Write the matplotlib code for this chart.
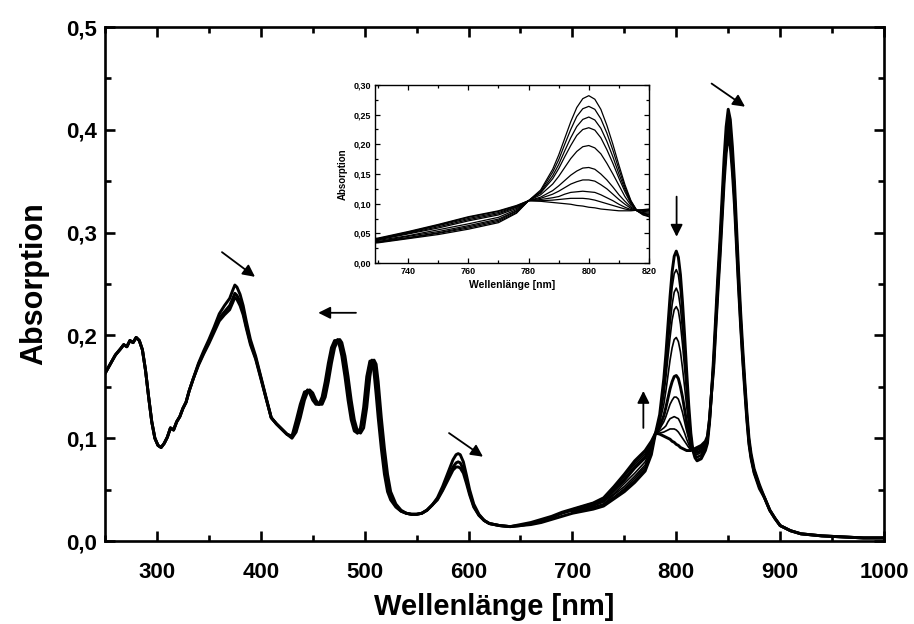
import matplotlib
matplotlib.use("Agg")
import matplotlib.pyplot as plt
from matplotlib.ticker import MultipleLocator, FuncFormatter

plt.rcParams['font.family'] = ['Liberation Sans', 'DejaVu Sans']
plt.rcParams['font.weight'] = 'bold'

# ---------------------------------------------------------------------------
# UV/VIS part (250-690 nm): first, middle and last spectrum of the series
# ---------------------------------------------------------------------------
wl_uv = [250, 255, 260, 265, 268, 271, 274, 277, 280, 283,
         286, 289, 292, 295, 298, 301, 304, 307, 310, 313,
         316, 319, 322, 325, 328, 331, 335, 340, 345, 350,
         355, 360, 365, 370, 373, 375, 377, 380, 383, 386,
         390, 395, 400, 405, 410, 415, 420, 425, 430, 434,
         438, 442, 445, 447, 450, 453, 456, 459, 462, 465,
         468, 471, 474, 476, 478, 481, 484, 487, 490, 493,
         496, 499, 502, 505, 507, 509, 511, 513, 516, 519,
         522, 525, 530, 535, 540, 545, 550, 555, 560, 565,
         570, 575, 580, 585, 588, 590, 592, 595, 598, 601,
         605, 610, 615, 620, 630, 640, 650, 660, 670, 680,
         690]

uv_first = [.163, .172, .181, .187, .191, .189, .195, .193, .198, .195,
            .186, .166, .140, .116, .100, .093, .091, .095, .101, .110,
            .108, .116, .121, .129, .135, .146, .158, .173, .185, .196,
            .208, .221, .229, .236, .244, .249, .247, .240, .229, .214,
            .196, .180, .160, .140, .120, .114, .109, .104, .100, .106,
            .120, .137, .145, .147, .144, .137, .133, .133, .140, .155,
            .173, .188, .195, .196, .193, .180, .160, .137, .118, .107,
            .105, .110, .130, .160, .173, .176, .172, .155, .120, .090,
            .065, .048, .036, .030, .027, .026, .026, .027, .030, .035,
            .042, .053, .066, .079, .084, .085, .084, .077, .064, .050,
            .036, .026, .020, .017, .015, .014, .015, .016, .018, .021,
            .024]

uv_mid = [.163, .172, .181, .187, .191, .189, .195, .193, .198, .195,
          .186, .166, .140, .116, .100, .093, .091, .095, .101, .110,
          .108, .116, .121, .129, .135, .146, .158, .172, .183, .194,
          .205, .217, .223, .229, .236, .241, .239, .233, .223, .209,
          .193, .178, .159, .139, .120, .114, .109, .104, .101, .113,
          .129, .142, .147, .145, .139, .134, .133, .137, .150, .167,
          .183, .193, .196, .193, .185, .167, .145, .124, .110, .105,
          .108, .123, .150, .173, .176, .172, .155, .132, .100, .073,
          .053, .043, .034, .029, .027, .026, .026, .027, .030, .035,
          .041, .050, .061, .072, .076, .077, .076, .070, .059, .047,
          .034, .025, .020, .017, .015, .014, .015, .017, .020, .023,
          .027]

uv_last = [.163, .172, .181, .187, .191, .189, .195, .193, .198, .195,
           .186, .166, .140, .116, .100, .093, .091, .095, .101, .110,
           .108, .116, .121, .129, .135, .146, .158, .171, .182, .192,
           .203, .214, .220, .225, .232, .237, .235, .229, .220, .207,
           .191, .177, .158, .139, .120, .114, .109, .104, .102, .117,
           .133, .145, .146, .144, .137, .133, .133, .140, .155, .173,
           .188, .195, .195, .189, .180, .160, .137, .118, .107, .105,
           .110, .130, .160, .175, .175, .164, .143, .120, .090, .065,
           .048, .040, .033, .029, .027, .026, .026, .027, .030, .035,
           .040, .049, .059, .069, .072, .072, .071, .066, .056, .045,
           .033, .025, .020, .017, .015, .014, .016, .018, .021, .024,
           .028]

# ---------------------------------------------------------------------------
# NIR part (700-880 nm): all ten spectra of the series (B800 / B850 bands)
# ---------------------------------------------------------------------------
wl_nir = [700, 720, 730, 740, 750, 760, 770, 776,
          780, 784, 788, 790, 792, 794, 796, 798,
          800, 802, 804, 806, 808, 810, 812, 814, 816, 818, 820,
          824, 828, 830, 832, 834,
          836, 838, 840, 842, 844, 846, 848, 850,
          852, 854, 856, 858, 860, 862, 864, 866, 868, 870,
          872, 875, 880]

nir_t0 = [.027, .031, .034, .041, .048, .057, .068, .084,
          .105, .123, .158, .182, .210, .238, .262, .277,
          .282, .276, .259, .232, .200, .165, .132, .105, .088, .081, .078,
          .080, .088, .095, .115, .145,
          .180, .220, .258, .293, .332, .372, .403, .420,
          .410, .384, .350, .305, .262, .222, .187, .155, .125, .100,
          .085, .070, .055]

nir_t1 = [.027, .032, .035, .042, .050, .059, .070, .085,
          .105, .121, .153, .174, .200, .225, .247, .260,
          .264, .259, .243, .219, .190, .158, .128, .104, .088, .082, .079,
          .081, .089, .096, .115, .145,
          .179, .218, .256, .291, .330, .369, .400, .417,
          .407, .381, .348, .303, .260, .220, .186, .154, .124, .099,
          .084, .070, .055]

nir_t2 = [.028, .032, .036, .043, .051, .061, .072, .087,
          .105, .119, .147, .166, .189, .211, .230, .242,
          .246, .241, .227, .205, .179, .150, .124, .102, .088, .083, .081,
          .083, .090, .096, .116, .145,
          .177, .217, .254, .289, .327, .367, .397, .414,
          .404, .379, .345, .301, .258, .219, .184, .153, .123, .099,
          .084, .069, .054]

nir_t3 = [.028, .033, .036, .045, .053, .063, .074, .088,
          .105, .118, .142, .159, .179, .198, .215, .225,
          .228, .224, .211, .191, .168, .143, .120, .100, .088, .084, .082,
          .084, .091, .097, .116, .145,
          .176, .215, .252, .287, .325, .364, .394, .411,
          .401, .376, .343, .298, .256, .217, .183, .152, .122, .098,
          .083, .069, .054]

nir_t4 = [.029, .034, .038, .046, .056, .066, .077, .090,
          .105, .115, .133, .146, .161, .176, .188, .196,
          .198, .194, .184, .168, .150, .131, .112, .097, .088, .085, .084,
          .086, .092, .098, .117, .145,
          .174, .213, .250, .284, .322, .360, .391, .407,
          .397, .372, .339, .296, .254, .215, .181, .150, .121, .097,
          .082, .068, .053]

nir_t5 = [.030, .035, .039, .049, .059, .071, .081, .092,
          .105, .111, .122, .130, .139, .148, .155, .160,
          .161, .158, .150, .140, .128, .115, .104, .094, .089, .087, .086,
          .088, .094, .100, .118, .145,
          .173, .211, .248, .281, .319, .357, .387, .403,
          .393, .368, .336, .293, .251, .213, .179, .149, .120, .096,
          .082, .067, .053]

nir_t6 = [.030, .036, .040, .050, .061, .073, .083, .094,
          .105, .109, .116, .121, .127, .133, .137, .140,
          .140, .138, .132, .125, .116, .107, .099, .092, .089, .088, .088,
          .090, .095, .100, .118, .145,
          .171, .210, .246, .279, .316, .354, .384, .400,
          .390, .366, .333, .290, .250, .211, .178, .148, .119, .095,
          .081, .067, .052]

nir_t7 = [.030, .036, .041, .051, .063, .075, .085, .095,
          .105, .107, .110, .112, .116, .119, .120, .121,
          .120, .119, .115, .110, .105, .099, .094, .090, .089, .089, .089,
          .091, .096, .101, .118, .145,
          .170, .208, .244, .277, .314, .352, .381, .397,
          .388, .363, .331, .288, .248, .210, .177, .147, .118, .095,
          .080, .066, .052]

nir_t8 = [.031, .037, .041, .052, .064, .077, .087, .096,
          .105, .105, .106, .107, .108, .109, .109, .109,
          .108, .106, .103, .100, .097, .094, .091, .089, .089, .089, .090,
          .092, .096, .102, .119, .145,
          .169, .207, .243, .276, .312, .350, .379, .395,
          .386, .361, .329, .287, .246, .209, .176, .146, .118, .094,
          .080, .066, .052]

nir_t9 = [.031, .037, .042, .053, .065, .078, .088, .097,
          .105, .104, .102, .101, .100, .099, .097, .096,
          .094, .093, .091, .090, .089, .088, .088, .088, .089, .090, .091,
          .093, .097, .102, .119, .145,
          .168, .206, .241, .274, .311, .348, .377, .393,
          .384, .359, .327, .285, .245, .208, .175, .145, .117, .094,
          .080, .066, .051]

# long-wavelength tail, common to all spectra
wl_tail = [885, 890, 895, 900, 910, 920, 940, 960, 980, 1000]
tail_abs = [.042, .030, .022, .015, .010, .007, .005, .004, .003, .003]

nir_series = [nir_t0, nir_t1, nir_t2, nir_t3, nir_t4,
              nir_t5, nir_t6, nir_t7, nir_t8, nir_t9]
for s in (uv_first, uv_mid, uv_last):
    assert len(s) == len(wl_uv)
for s in nir_series:
    assert len(s) == len(wl_nir)
assert len(tail_abs) == len(wl_tail)


def comma(fmt):
    return FuncFormatter(lambda v, p: format(v, fmt).replace('.', ','))


fig = plt.figure(figsize=(9.14, 6.24), dpi=100)
ax = fig.add_axes([0.1149, 0.1330, 0.8523, 0.8237])

# complete spectra (start, middle, end of the series)
for uv, nir in ((uv_first, nir_t0), (uv_mid, nir_t5), (uv_last, nir_t9)):
    ax.plot(wl_uv + wl_nir + wl_tail, uv + nir + tail_abs,
            color='black', lw=2.1, solid_joinstyle='round')
# remaining spectra in the region where they differ
for nir in (nir_t1, nir_t2, nir_t3, nir_t4, nir_t6, nir_t7, nir_t8):
    ax.plot(wl_nir, nir, color='black', lw=1.2)

ax.set_xlim(250, 1000)
ax.set_ylim(0, 0.5)
ax.xaxis.set_major_locator(MultipleLocator(100))
ax.xaxis.set_minor_locator(MultipleLocator(50))
ax.yaxis.set_major_locator(MultipleLocator(0.1))
ax.yaxis.set_minor_locator(MultipleLocator(0.05))
ax.yaxis.set_major_formatter(comma('.1f'))
ax.tick_params(which='both', direction='in', top=True, right=True, width=1.9)
ax.tick_params(which='major', length=7.5, labelsize=16)
ax.tick_params(which='minor', length=4.5)
ax.tick_params(axis='x', which='major', pad=15)
ax.tick_params(axis='y', which='major', pad=6)
for sp in ax.spines.values():
    sp.set_linewidth(1.9)
for lab in ax.get_xticklabels() + ax.get_yticklabels():
    lab.set_fontweight('bold')

ax.set_xlabel('Wellenlänge [nm]', fontsize=21, fontweight='bold', labelpad=7)
ax.set_ylabel('Absorption', fontsize=22, fontweight='bold', labelpad=12)

# arrows marking the direction of change
arrow_kw = dict(arrowstyle='-|>', color='black', lw=1.3, mutation_scale=18,
                shrinkA=0, shrinkB=0)
arrows = [((362.6, 0.281), (394.4, 0.257)),
          ((491.6, 0.222), (455.3, 0.222)),
          ((581.2, 0.105), (613.9, 0.082)),
          ((768.3, 0.110), (768.3, 0.146)),
          ((800.3, 0.335), (800.3, 0.296)),
          ((834.0, 0.445), (866.2, 0.4225))]
for tail, tip in arrows:
    ax.annotate('', xy=tip, xytext=tail, arrowprops=arrow_kw)

# inset: B800 region enlarged
axin = fig.add_axes([0.4103, 0.5785, 0.2998, 0.2853])
for nir in nir_series:
    axin.plot(wl_nir, nir, color='black', lw=0.9)
axin.set_xlim(729, 820)
axin.set_ylim(0, 0.30)
axin.xaxis.set_major_locator(MultipleLocator(20))
axin.xaxis.set_minor_locator(MultipleLocator(10))
axin.yaxis.set_major_locator(MultipleLocator(0.05))
axin.yaxis.set_minor_locator(MultipleLocator(0.025))
axin.yaxis.set_major_formatter(comma('.2f'))
axin.tick_params(which='both', direction='in', top=True, right=True, width=0.9)
axin.tick_params(which='major', length=3.5, labelsize=6.5, pad=3)
axin.tick_params(which='minor', length=2)
for sp in axin.spines.values():
    sp.set_linewidth(1.0)
for lab in axin.get_xticklabels() + axin.get_yticklabels():
    lab.set_fontweight('bold')
axin.set_xlabel('Wellenlänge [nm]', fontsize=7.5, fontweight='bold', labelpad=3)
axin.set_ylabel('Absorption', fontsize=7, fontweight='bold', labelpad=4)

fig.savefig('out.png', dpi=100)
